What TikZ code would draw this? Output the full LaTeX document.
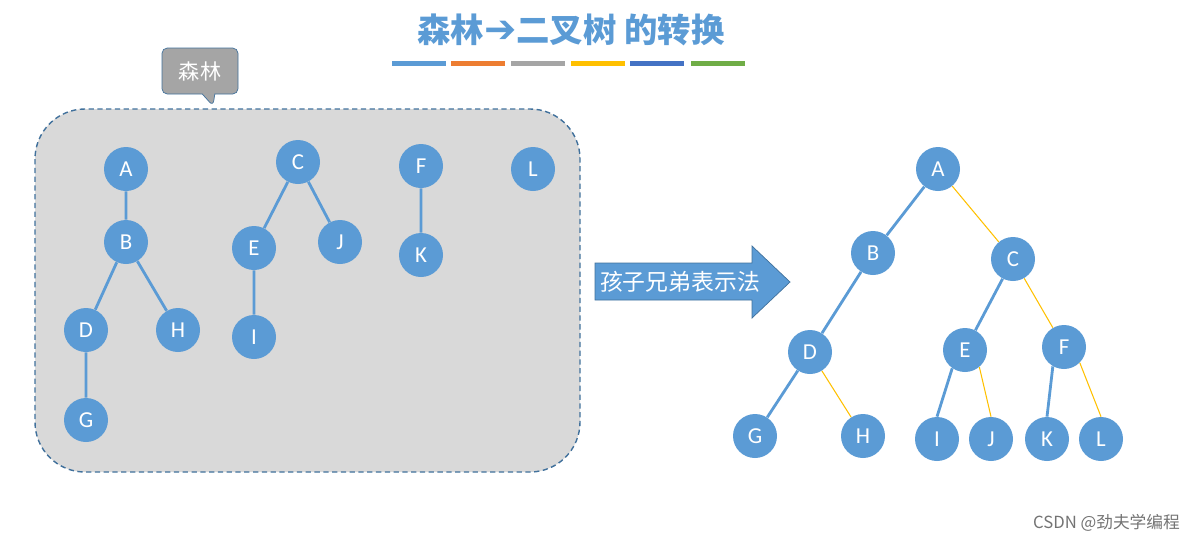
\documentclass[tikz,border=0pt]{standalone}
\usepackage{fontspec}
\setmainfont{Carlito}
\newfontfamily\cjk{Noto Sans CJK SC}
\newfontfamily\symb{DejaVu Sans}
\usetikzlibrary{shapes.callouts,positioning}

\definecolor{nodeblue}{HTML}{5B9BD5}
\definecolor{edgeyellow}{HTML}{FFC000}
\definecolor{darkline}{HTML}{41719C}
\definecolor{boxgray}{HTML}{D9D9D9}
\definecolor{tipgray}{HTML}{A5A5A5}

\tikzset{
  tnode/.style={circle,fill=nodeblue,text=white,minimum size=44*0.02cm,inner sep=0pt,font=\fontsize{13}{13}\selectfont},
  child/.style={draw=nodeblue,line width=1.6pt},
  sibling/.style={draw=edgeyellow,line width=0.6pt},
}

\begin{document}
\begin{tikzpicture}[x=0.02cm,y=-0.02cm]
   \useasboundingbox (0,0) rectangle (1202,542);

   % title
   \node[text=nodeblue,font=\bfseries\fontsize{19}{19}\selectfont] (title) at (571,30)
      {\cjk 森林\symb\fontsize{22}{22}\selectfont ➔\cjk\fontsize{19}{19}\selectfont 二叉树 的转换};
   \foreach \xa/\col in {392/5B9BD5,451/ED7D31,511/A5A5A5,571/FFC000,630/4472C4,691/70AD47}{
      \definecolor{barcol}{HTML}{\col}
      \fill[barcol] (\xa,61) rectangle ++(54,5);
   }

   % forest
   \draw[fill=boxgray,draw=darkline,line width=0.8pt,dash pattern=on 3pt off 2pt,rounded corners=50*0.02cm] (35,109) rectangle (580,472);
   \node[rectangle callout,callout absolute pointer={(213,106)},fill=tipgray,draw=darkline,
         rounded corners=3pt,minimum width=76*0.02cm,minimum height=46*0.02cm,
         text=white,font=\cjk\fontsize{12}{12}\selectfont] (tip) at (200,71) {森林};

   \node[tnode] (A) at (126,169) {A};
   \node[tnode] (B) at (126,242) {B};
   \node[tnode] (D) at (86,330) {D};
   \node[tnode] (H) at (178,330) {H};
   \node[tnode] (G) at (86,420) {G};
   \node[tnode] (C) at (298,162) {C};
   \node[tnode] (E) at (254,248) {E};
   \node[tnode] (J) at (340,242) {J};
   \node[tnode] (I) at (254,337) {I};
   \node[tnode] (F) at (421,166) {F};
   \node[tnode] (K) at (421,255) {K};
   \node[tnode] (L) at (533,169) {L};
   \path[child] (A) -- (B) (B) -- (D) (B) -- (H) (D) -- (G)
                (C) -- (E) (C) -- (J) (E) -- (I) (F) -- (K);

   % arrow
   \draw[fill=nodeblue,draw=darkline] (595,263) -- (752,263) -- (752,246) -- (790,282)
        -- (752,318) -- (752,300) -- (595,300) -- cycle;
   \node[text=white,font=\cjk\fontsize{13}{13}\selectfont] (method) at (680,282) {孩子兄弟表示法};

   % binary tree
   \node[tnode] (bA) at (938,169) {A};
   \node[tnode] (bB) at (873,253) {B};
   \node[tnode] (bC) at (1013,259) {C};
   \node[tnode] (bD) at (810,352) {D};
   \node[tnode] (bE) at (965,350) {E};
   \node[tnode] (bF) at (1064,347) {F};
   \node[tnode] (bG) at (755,436) {G};
   \node[tnode] (bH) at (863,436) {H};
   \node[tnode] (bI) at (937,439) {I};
   \node[tnode] (bJ) at (991,439) {J};
   \node[tnode] (bK) at (1047,439) {K};
   \node[tnode] (bL) at (1101,439) {L};
   \path[child] (bA) -- (bB) (bB) -- (bD) (bD) -- (bG) (bC) -- (bE)
                (bE.235) -- (bI.north) (bF.240) -- (bK.north);
   \path[sibling] (bA) -- (bC) (bC) -- (bF) (bD) -- (bH)
                (bE.-50) -- (bJ.north) (bF.-45) -- (bL.north);

   \node[text=black!55,font=\cjk\fontsize{9.5}{10}\selectfont,anchor=east] (mark) at (1186,523) {CSDN @劲夫学编程};
\end{tikzpicture}
\end{document}
